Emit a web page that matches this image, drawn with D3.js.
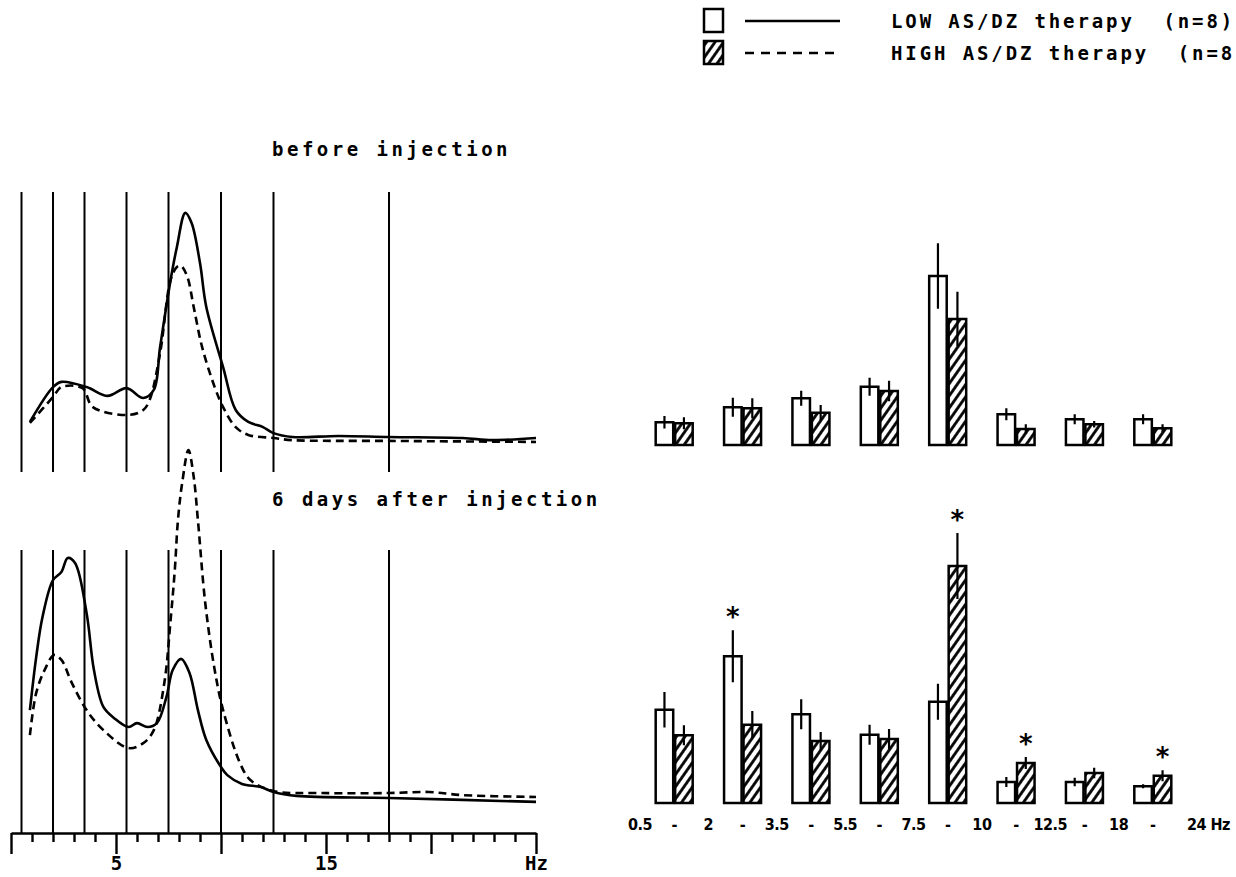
<!DOCTYPE html>
<html>
<head>
<meta charset="utf-8">
<script src="https://cdn.jsdelivr.net/npm/d3@7"></script>
<style>
  body { margin: 0; background: #fff; }
  svg { display: block; }
  .mono { font-family: 'DejaVu Sans Mono', monospace; font-weight: bold; font-size: 19px; letter-spacing: 3.5px; white-space: pre; }
  .legend .mono { letter-spacing: 2.9px; }
  .band-label { font-family: 'DejaVu Sans Condensed', 'DejaVu Sans', sans-serif; font-weight: bold; font-size: 16px; letter-spacing: -0.5px; }
  .star { font-family: 'DejaVu Sans Mono', monospace; font-weight: bold; font-size: 26px; }
  .h-axis text { font-family: 'DejaVu Sans Mono', monospace; font-weight: bold; font-size: 19px; }
</style>
</head>
<body>
<div id="chart"></div>
<script>
const width = 1236, height = 877

// band limits (Hz) marked on the spectra, and the labels under the bars
const bandEdges = [0.5, 2, 3.5, 5.5, 7.5, 10, 12.5, 18]
const bandLabels = ['0.5', '2', '3.5', '5.5', '7.5', '10', '12.5', '18', '24 Hz']
const groups = ['0.5-2', '2-3.5', '3.5-5.5', '5.5-7.5', '7.5-10', '10-12.5', '12.5-18', '18-24']
const series = ['LOW AS/DZ therapy  (n=8)', 'HIGH AS/DZ therapy  (n=8)']

// frequency axis
const freqTicks = d3.range(0, 26)
const freqLabelValues = [5, 15, 25]
const freqLabelText = ['5', '15', 'Hz']

// mean spectra [Hz, relative power]
const beforeLow = [[0.9,10.8],[2.0,24.2],[2.4,26.2],[3.6,24.2],[4.6,20.8],[5.5,23.8],[6.3,20.0],[6.8,23.1],[7.1,39.6],[7.6,65.4],[7.9,78.1],[8.3,91.2],[8.6,87.3],[9.0,71.9],[9.3,55.0],[10.1,31.9],[10.7,15.4],[11.3,10.8],[12.0,8.8],[12.5,6.5],[13.4,5.0],[15.6,5.4],[18.0,5.0],[21.5,4.6],[22.9,3.8],[25,4.6]]
const beforeHigh = [[0.9,10.4],[2.0,20.4],[2.4,24.2],[3.4,23.8],[3.9,16.5],[5.6,13.5],[6.3,15.4],[6.6,19.2],[7.1,37.3],[7.6,65.4],[7.9,70.4],[8.1,70.8],[8.4,66.5],[8.7,55.0],[9.1,39.6],[9.7,24.2],[10.1,16.5],[10.7,8.8],[11.3,5.8],[12.5,4.6],[13.4,3.8],[18,3.5],[25,3.1]]
const afterLow = [[0.9,36.5],[1.2,56.9],[1.5,72.3],[2.0,86.5],[2.4,89.6],[2.7,95.0],[3.05,93.1],[3.6,73.8],[3.95,51.9],[4.4,37.7],[4.9,33.5],[5.6,30.0],[6.0,31.5],[6.5,30.0],[6.95,31.5],[7.4,41.5],[7.7,51.9],[8.1,56.2],[8.5,50.8],[8.9,36.5],[9.3,25.0],[10.0,14.6],[10.3,11.5],[11.0,8.1],[11.9,6.9],[12.5,5.0],[13.6,3.5],[18,2.7],[25,1.2]]
const afterHigh = [[0.9,26.9],[1.2,43.1],[1.6,51.9],[2.05,57.7],[2.4,55.8],[2.9,46.9],[3.6,36.5],[4.4,28.8],[5.6,21.9],[6.3,23.8],[6.8,28.8],[7.3,46.9],[7.6,71.2],[7.8,90.4],[7.95,109.6],[8.15,123.8],[8.45,136.5],[8.7,126.2],[8.9,109.6],[9.25,77.7],[9.7,51.9],[10.1,36.5],[10.9,16.2],[11.4,9.6],[12.5,5.4],[14.8,4.6],[18,4.6],[19.9,5.0],[21.5,3.8],[25,3.1]]

// band power, mean and SEM
const beforeLowMean  = [9.1, 15.1, 18.7, 23.3, 67.6, 12.3, 10.3, 10.3]
const beforeLowSem   = [2.5, 3.8, 3.0, 3.6, 13.1, 2.4, 2.0, 2.0]
const beforeHighMean = [8.7, 14.7, 12.9, 21.6, 50.4, 6.4, 8.3, 6.7]
const beforeHighSem  = [2.4, 4.0, 3.1, 4.1, 10.9, 1.9, 1.3, 1.6]
const afterLowMean   = [37.3, 58.7, 35.5, 27.3, 40.5, 8.4, 8.4, 6.7]
const afterLowSem    = [7.1, 10.4, 6.0, 4.0, 7.2, 2.0, 1.7, 0.8]
const afterHighMean  = [27.1, 31.3, 24.8, 25.6, 94.8, 16.0, 12.0, 10.9]
const afterHighSem   = [4.0, 5.5, 3.6, 4.0, 13.2, 2.4, 2.1, 2.2]
const afterStars     = ['', 'low', '', '', 'high', 'high', '', 'high']

const svg = d3.select('#chart').append('svg')
  .attr('width', width)
  .attr('height', height)

const defs = svg.append('defs')
defs.append('pattern')
  .attr('id', 'hatch')
  .attr('patternUnits', 'userSpaceOnUse')
  .attr('width', 7)
  .attr('height', 7)
  .attr('patternTransform', 'rotate(35)')
  .append('line')
  .attr('x1', 3.5).attr('x2', 3.5)
  .attr('y1', 0).attr('y2', 7)
  .attr('stroke', '#000')
  .attr('stroke-width', 2.8)

// ---- spectra (left) ----
const freqX = d3.scaleLinear().domain([0, 25]).range([11, 536])
const powTop = d3.scaleLinear().domain([0, 100]).range([450, 190])
const powBot = d3.scaleLinear().domain([0, 100]).range([805, 545])

const panels = [
  { y: powTop, lineTop: 192, lineBottom: 472, low: beforeLow, high: beforeHigh },
  { y: powBot, lineTop: 550, lineBottom: 833, low: afterLow, high: afterHigh }
]

panels.forEach(p => {
  const g = svg.append('g')
  g.selectAll('line.band')
    .data(bandEdges).enter()
    .append('line').classed('band', true)
    .attr('x1', d => freqX(d)).attr('x2', d => freqX(d))
    .attr('y1', p.lineTop).attr('y2', p.lineBottom)
    .attr('stroke', '#000')
    .attr('stroke-width', 2)

  const line = d3.line()
    .x(d => freqX(d[0]))
    .y(d => p.y(d[1]))
    .curve(d3.curveCatmullRom.alpha(0.5))

  g.append('path')
    .attr('d', line(p.low))
    .attr('fill', 'none')
    .attr('stroke', '#000')
    .attr('stroke-width', 2.6)
  g.append('path')
    .attr('d', line(p.high))
    .attr('fill', 'none')
    .attr('stroke', '#000')
    .attr('stroke-width', 2.6)
    .attr('stroke-dasharray', '8,5')
})

const hAxis = d3.axisBottom(freqX)
  .tickValues(freqTicks)
  .tickSize(9)
  .tickSizeOuter(0)
  .tickFormat(d => {
    const i = freqLabelValues.indexOf(d)
    return i < 0 ? '' : freqLabelText[i]
  })
const axisG = svg.append('g').classed('h-axis', true)
  .attr('transform', 'translate(0, 833)')
  .call(hAxis)
axisG.select('.domain').attr('stroke-width', 2.6)
axisG.selectAll('.tick line').attr('stroke-width', 2.4)
  .attr('y2', d => d % 5 === 0 ? 21 : 9)
axisG.selectAll('.tick text').attr('y', 24).attr('fill', '#000')

svg.append('text').classed('mono', true)
  .attr('x', 272).attr('y', 156)
  .text('before injection')
svg.append('text').classed('mono', true)
  .attr('x', 272).attr('y', 506)
  .text('6 days after injection')

// ---- bars (right) ----
const x0 = d3.scaleBand().domain(d3.range(groups.length)).range([640, 1187])
const x1 = d3.scaleBand().domain(['low', 'high']).range([0, 37]).paddingInner(0.1)
const barH = d3.scaleLinear().domain([0, 100]).range([0, 250])
const groupLeft = i => x0(i) + (x0.bandwidth() - 37) / 2

const drawBars = (baseline, lowMean, lowSem, highMean, highSem, stars) => {
  const rows = groups.map((name, i) => [
    { i, key: 'low', v: lowMean[i], e: lowSem[i], star: stars[i] === 'low' },
    { i, key: 'high', v: highMean[i], e: highSem[i], star: stars[i] === 'high' }
  ]).flat()

  const g = svg.append('g')
  const bar = g.selectAll('g.bar')
    .data(rows).enter()
    .append('g').classed('bar', true)
    .attr('transform', d => 'translate(' + (groupLeft(d.i) + x1(d.key)) + ', 0)')

  bar.append('rect')
    .attr('x', 0)
    .attr('y', d => baseline - barH(d.v))
    .attr('width', x1.bandwidth())
    .attr('height', d => barH(d.v))
    .attr('fill', d => d.key === 'high' ? 'url(#hatch)' : '#fff')
    .attr('stroke', '#000')
    .attr('stroke-width', 2.5)

  bar.append('line')
    .attr('x1', x1.bandwidth() / 2).attr('x2', x1.bandwidth() / 2)
    .attr('y1', d => baseline - barH(d.v - d.e))
    .attr('y2', d => baseline - barH(d.v + d.e))
    .attr('stroke', '#000')
    .attr('stroke-width', 2.2)

  bar.filter(d => d.star).append('text').classed('star', true)
    .attr('x', x1.bandwidth() / 2)
    .attr('y', d => baseline - barH(d.v + d.e) - 4)
    .attr('text-anchor', 'middle')
    .text('*')
}

drawBars(445, beforeLowMean, beforeLowSem, beforeHighMean, beforeHighSem, groups.map(() => ''))
drawBars(803, afterLowMean, afterLowSem, afterHighMean, afterHighSem, afterStars)

const labels = svg.append('g')
labels.selectAll('text.edge')
  .data(bandLabels).enter()
  .append('text').classed('band-label edge', true)
  .attr('x', (d, i) => i < groups.length ? x0(i) : x0.range()[1])
  .attr('y', 830)
  .attr('text-anchor', (d, i) => i < groups.length ? 'middle' : 'start')
  .text(d => d)
labels.selectAll('text.dash')
  .data(groups).enter()
  .append('text').classed('band-label dash', true)
  .attr('x', (d, i) => x0(i) + x0.bandwidth() / 2)
  .attr('y', 830)
  .attr('text-anchor', 'middle')
  .text('-')

// ---- legend ----
const legend = svg.append('g').classed('legend', true)
const legendRows = legend.selectAll('g')
  .data(series).enter()
  .append('g')
  .attr('transform', (d, i) => 'translate(0, ' + (i * 32) + ')')
legendRows.append('rect')
  .attr('x', 704).attr('y', 9)
  .attr('width', 19).attr('height', 23)
  .attr('fill', (d, i) => i ? 'url(#hatch)' : '#fff')
  .attr('stroke', '#000')
  .attr('stroke-width', 2.5)
legendRows.append('line')
  .attr('x1', 745).attr('x2', 840)
  .attr('y1', 21).attr('y2', 21)
  .attr('stroke', '#000')
  .attr('stroke-width', 2.4)
  .attr('stroke-dasharray', (d, i) => i ? '9,7' : null)
legendRows.append('text').classed('mono', true)
  .attr('x', 891).attr('y', 28)
  .text(d => d)
</script>
</body>
</html>
